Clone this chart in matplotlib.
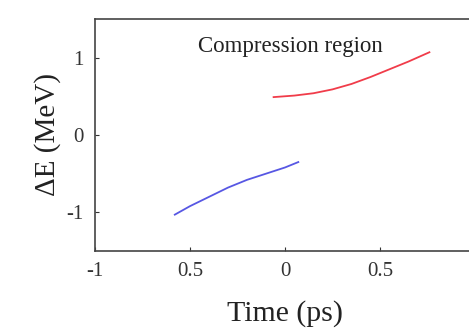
import numpy as np
import matplotlib.pyplot as plt

plt.rcParams['font.family'] = ['Liberation Serif', 'DejaVu Serif']

# data
blue_t = [-0.58, -0.50, -0.40, -0.30, -0.20, -0.10, 0.00, 0.07]
blue_e = [-1.03, -0.92, -0.80, -0.68, -0.58, -0.50, -0.42, -0.35]
red_t = [-0.06, 0.05, 0.15, 0.25, 0.35, 0.45, 0.55, 0.65, 0.76]
red_e = [0.49, 0.51, 0.54, 0.59, 0.66, 0.75, 0.85, 0.95, 1.07]

xticks = [-1, -0.5, 0, 0.5]
xticklabels = ['-1', '0.5', '0', '0.5']
yticks = [-1, 0, 1]
yticklabels = ['-1', '0', '1']

fig = plt.figure(figsize=(4.69, 3.29), dpi=100)
ax = fig.add_axes([95/469, (329-251)/329, (475-95)/469, (251-19)/329])

ax.plot(blue_t, blue_e, color='#3a3adf', lw=1.3, alpha=0.85)
ax.plot(red_t, red_e, color='#ee1a2a', lw=1.3, alpha=0.85)

ax.text(0.03, 1.14, 'Compression region', fontsize=16.5, ha='center', va='center', color='#222222')

ax.set_xlim(-1, 1)
ax.set_ylim(-1.5, 1.5)
ax.set_xticks(xticks)
ax.set_xticklabels(xticklabels)
ax.set_yticks(yticks)
ax.set_yticklabels(yticklabels)
ax.tick_params(direction='in', length=3, labelsize=15, colors='#333333', pad=8)
for s in ax.spines.values():
    s.set_color('#444444')
    s.set_linewidth(1.2)

ax.set_xlabel('Time (ps)', fontsize=21.5, color='#222222', labelpad=14)
ax.set_ylabel('ΔE (MeV)', fontsize=21, color='#222222', labelpad=4)

fig.savefig('out.png', dpi=100)
